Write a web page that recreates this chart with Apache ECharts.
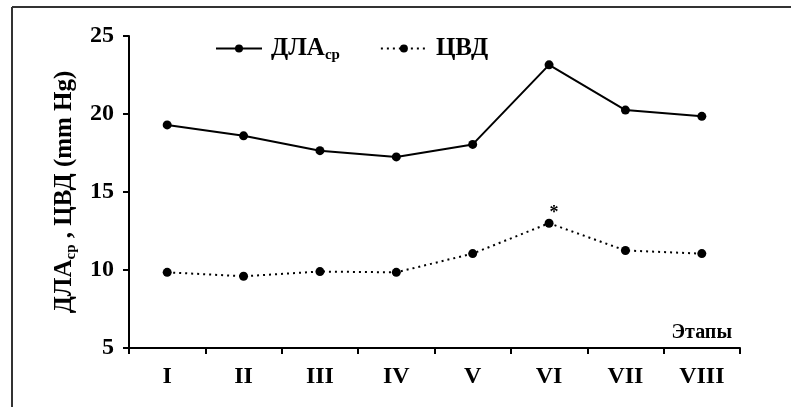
<!DOCTYPE html>
<html>
<head>
<meta charset="utf-8">
<script src="https://cdn.jsdelivr.net/npm/echarts@6/dist/echarts.min.js"></script>
<style>html,body{margin:0;padding:0;background:#fff;}#c{width:791px;height:407px;}</style>
</head>
<body>
<div id="c"></div>
<script>
var categories = ['I', 'II', 'III', 'IV', 'V', 'VI', 'VII', 'VIII'];
var dlaValues = [19.3, 18.6, 17.65, 17.25, 18.05, 23.15, 20.25, 19.85];
var cvdValues = [9.85, 9.6, 9.9, 9.85, 11.05, 13.0, 11.25, 11.05];
var cvdMarks = ['', '', '', '', '', '*', '', ''];
var yTicks = [5, 10, 15, 20, 25];

var FONT = '"Liberation Serif", "DejaVu Serif", serif';
var chart = echarts.init(document.getElementById('c'), null, {renderer: 'canvas'});

var cvdData = cvdValues.map(function (v, i) {
  var item = {value: v};
  if (cvdMarks[i]) {
    item.label = {show: true, position: 'top', distance: 0, offset: [5, 4], formatter: cvdMarks[i],
      fontFamily: FONT, fontWeight: 'bold', fontSize: 18, color: '#000'};
  }
  return item;
});

var option = {
  backgroundColor: '#fff',
  animation: false,
  grid: {left: 129, right: 51, top: 36, bottom: 59, containLabel: false},
  legend: {
    left: 210, top: 31,
    itemWidth: 46, itemHeight: 10, itemGap: 40,
    data: ['ДЛАср', 'ЦВД'],
    formatter: function (n) { return n === 'ДЛАср' ? '{m|ДЛА}{s|ср}' : '{m|ЦВД}'; },
    textStyle: {
      color: '#000',
      rich: {
        m: {fontFamily: FONT, fontWeight: 'bold', fontSize: 25, color: '#000', padding: [0, 0, 0, 4]},
        s: {fontFamily: FONT, fontWeight: 'bold', fontSize: 15, color: '#000', padding: [13, 0, 0, 0]}
      }
    }
  },
  graphic: [
    {type: 'line', shape: {x1: 12, y1: 7, x2: 791, y2: 7}, style: {stroke: '#333', lineWidth: 2}},
    {type: 'line', shape: {x1: 12, y1: 7, x2: 12, y2: 407}, style: {stroke: '#333', lineWidth: 2}}
  ],
  xAxis: {
    type: 'category',
    data: categories,
    boundaryGap: true,
    name: 'Этапы',
    nameLocation: 'end',
    nameGap: -8,
    nameTextStyle: {fontFamily: FONT, fontWeight: 'bold', fontSize: 20, color: '#000',
      align: 'right', verticalAlign: 'bottom', padding: [0, 0, 5, 0]},
    axisLine: {lineStyle: {color: '#000', width: 2}},
    axisTick: {show: true, length: 6, inside: false, lineStyle: {color: '#000', width: 2}},
    axisLabel: {fontFamily: FONT, fontWeight: 'bold', fontSize: 24, color: '#000', margin: 17},
    splitLine: {show: false}
  },
  yAxis: {
    type: 'value',
    min: yTicks[0], max: yTicks[yTicks.length - 1], interval: 5,
    name: '{m|ДЛА}{s|ср}{m| , ЦВД (mm Hg)}',
    nameLocation: 'middle',
    nameGap: 50,
    nameRotate: 90,
    nameTextStyle: {
      rich: {
        m: {fontFamily: FONT, fontWeight: 'bold', fontSize: 25, color: '#000'},
        s: {fontFamily: FONT, fontWeight: 'bold', fontSize: 15, color: '#000', padding: [13, 0, 0, 0]}
      }
    },
    axisLine: {show: true, lineStyle: {color: '#000', width: 2}},
    axisTick: {show: true, length: 6, lineStyle: {color: '#000', width: 2}},
    axisLabel: {fontFamily: FONT, fontWeight: 'bold', fontSize: 24, color: '#000', margin: 15},
    splitLine: {show: false}
  },
  series: [
    {
      name: 'ДЛАср', type: 'line', data: dlaValues,
      symbol: 'circle', symbolSize: 9,
      itemStyle: {color: '#000'},
      lineStyle: {color: '#000', width: 2, type: 'solid'}
    },
    {
      name: 'ЦВД', type: 'line', data: cvdData,
      symbol: 'circle', symbolSize: 9,
      itemStyle: {color: '#000'},
      lineStyle: {color: '#000', width: 2, type: [2, 4]}
    }
  ]
};
chart.setOption(option);
</script>
</body>
</html>
